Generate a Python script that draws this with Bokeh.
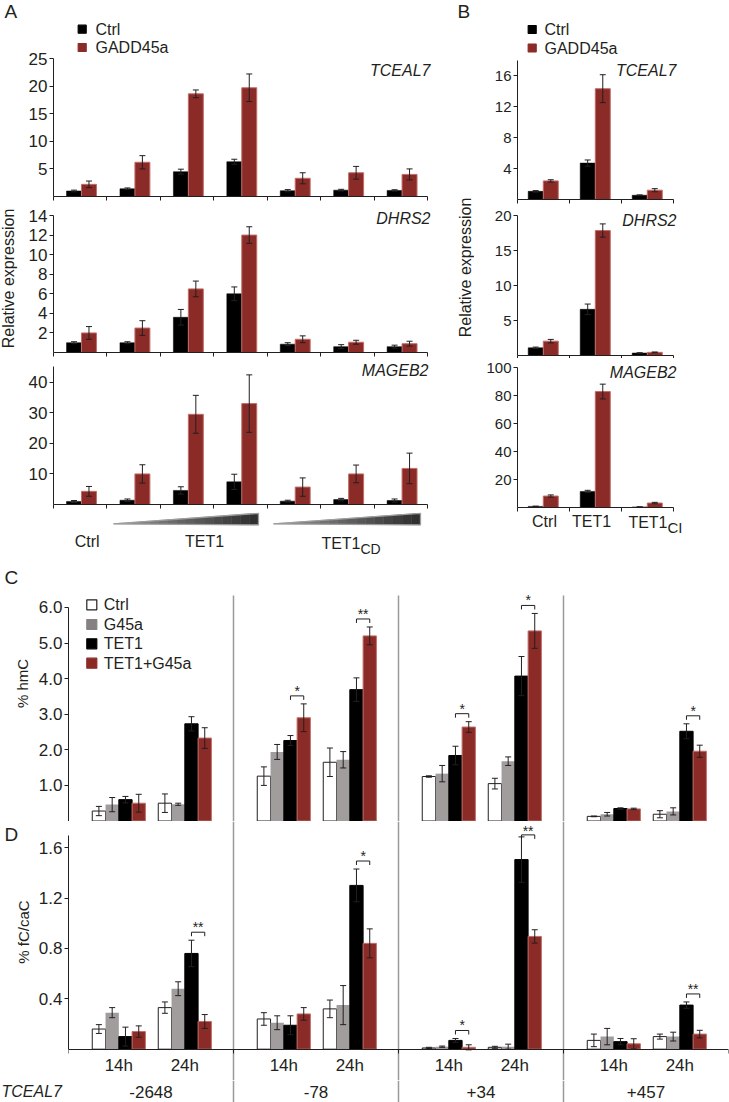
import math
from bokeh.plotting import figure
from bokeh.models import (Range1d, FixedTicker, Whisker, TeeHead, ColumnDataSource,
                          PrintfTickFormatter, CustomJSTickFormatter)
from bokeh.layouts import column, row
from bokeh.core.properties import value
from bokeh.embed import file_html
from bokeh.resources import INLINE

# ============================ DATA ============================
ab_series = ["Ctrl", "GADD45a"]
genes = ["TCEAL7", "DHRS2", "MAGEB2"]
y_title_ab = "Relative expression"

# Panel A: Ctrl, TET1 (3 increasing doses), TET1CD (3 increasing doses)
a_cond_main = ["Ctrl", "TET1", "TET1"]
a_cond_sub = ["", "", "CD"]
a_tceal7_ctrl = [1.0, 1.4, 4.5, 6.3, 1.05, 1.15, 1.1]
a_tceal7_ctrl_err = [0.15, 0.15, 0.45, 0.45, 0.2, 0.15, 0.12]
a_tceal7_gadd = [2.2, 6.2, 18.6, 19.7, 3.3, 4.3, 4.0]
a_tceal7_gadd_err = [0.6, 1.2, 0.7, 2.5, 1.0, 1.15, 1.0]
a_dhrs2_ctrl = [1.0, 1.0, 3.6, 6.0, 0.85, 0.6, 0.6]
a_dhrs2_ctrl_err = [0.1, 0.1, 0.8, 0.7, 0.15, 0.2, 0.15]
a_dhrs2_gadd = [2.0, 2.5, 6.5, 12.0, 1.35, 1.05, 0.9]
a_dhrs2_gadd_err = [0.65, 0.75, 0.8, 0.85, 0.35, 0.2, 0.25]
a_mageb2_ctrl = [1.0, 1.4, 4.6, 7.4, 1.1, 1.6, 1.3]
a_mageb2_ctrl_err = [0.3, 0.4, 1.2, 2.5, 0.3, 0.4, 0.5]
a_mageb2_gadd = [4.3, 10.0, 29.5, 33.0, 5.7, 10.0, 11.8]
a_mageb2_gadd_err = [1.6, 3.0, 6.2, 9.4, 3.0, 2.9, 5.0]

# Panel B: Ctrl, TET1, TET1CI
b_cond_main = ["Ctrl", "TET1", "TET1"]
b_cond_sub = ["", "", "CI"]
b_tceal7_ctrl = [1.05, 4.7, 0.55]
b_tceal7_ctrl_err = [0.1, 0.4, 0.05]
b_tceal7_gadd = [2.4, 14.3, 1.2]
b_tceal7_gadd_err = [0.15, 1.8, 0.2]
b_dhrs2_ctrl = [1.1, 6.6, 0.35]
b_dhrs2_ctrl_err = [0.1, 0.75, 0.05]
b_dhrs2_gadd = [2.05, 17.85, 0.45]
b_dhrs2_gadd_err = [0.25, 0.95, 0.05]
b_mageb2_ctrl = [0.8, 11.5, 0.4]
b_mageb2_ctrl_err = [0.2, 0.8, 0.1]
b_mageb2_gadd = [8.2, 83.0, 3.2]
b_mageb2_gadd_err = [0.8, 5.3, 0.5]

# Panels C/D: 4 sites x 2 times (order: site1 14h, site1 24h, site2 14h, ...)
cd_series = ["Ctrl", "G45a", "TET1", "TET1+G45a"]
cd_sites = ["-2648", "-78", "+34", "+457"]
cd_times = ["14h", "24h"]
cd_gene = "TCEAL7"
c_title = "% hmC"
d_title = "% fC/caC"

hmc_ctrl = [0.28, 0.5, 1.26, 1.65, 1.25, 1.05, 0.13, 0.19]
hmc_ctrl_err = [0.13, 0.26, 0.26, 0.4, 0.02, 0.15, 0.01, 0.1]
hmc_g45a = [0.46, 0.47, 1.94, 1.72, 1.33, 1.68, 0.19, 0.27]
hmc_g45a_err = [0.2, 0.03, 0.21, 0.23, 0.23, 0.12, 0.05, 0.1]
hmc_tet1 = [0.6, 2.73, 2.26, 3.69, 1.84, 4.07, 0.35, 2.52]
hmc_tet1_err = [0.09, 0.2, 0.14, 0.33, 0.26, 0.55, 0.02, 0.21]
hmc_tg = [0.5, 2.33, 2.9, 5.2, 2.64, 5.34, 0.34, 1.96]
hmc_tg_err = [0.25, 0.29, 0.39, 0.25, 0.15, 0.49, 0.02, 0.17]
hmc_stars = [(2, "*"), (3, "**"), (4, "*"), (5, "*"), (7, "*")]

fc_ctrl = [0.16, 0.33, 0.24, 0.32, 0.01, 0.015, 0.07, 0.10]
fc_ctrl_err = [0.035, 0.045, 0.05, 0.07, 0.005, 0.008, 0.05, 0.02]
fc_g45a = [0.29, 0.48, 0.21, 0.35, 0.02, 0.02, 0.10, 0.10]
fc_g45a_err = [0.04, 0.055, 0.055, 0.155, 0.005, 0.02, 0.065, 0.035]
fc_tet1 = [0.10, 0.76, 0.19, 1.30, 0.07, 1.505, 0.06, 0.35]
fc_tet1_err = [0.075, 0.105, 0.075, 0.13, 0.015, 0.18, 0.025, 0.025]
fc_tg = [0.14, 0.22, 0.28, 0.84, 0.015, 0.895, 0.043, 0.12]
fc_tg_err = [0.045, 0.055, 0.05, 0.115, 0.02, 0.053, 0.04, 0.03]
fc_stars = [(1, "**"), (3, "*"), (4, "*"), (5, "**"), (7, "**")]

panel_letters = ["A", "B", "C", "D"]

# ============================ STYLE ============================
FONT = "Liberation Sans"
INK = "#231f20"
RED = "#8b2b27"
RED_EDGE = "#c06e69"
GREY = "#a09d9c"
GREY_KEY = "#858181"
DIV = "#9a9a9a"


def base_fig(w, h, xr, yr, left, bottom, right=0, axes=True):
    p = figure(width=w, height=h, x_range=xr, y_range=yr,
               output_backend="svg", toolbar_location=None, title=None,
               x_axis_location="below" if axes else None,
               y_axis_location="left" if axes else None,
               min_border_left=left, min_border_right=right,
               min_border_top=0, min_border_bottom=bottom)
    p.outline_line_color = None
    p.background_fill_color = "white"
    p.border_fill_color = "white"
    p.grid.visible = False
    return p


def text_fig(w, h):
    # plain strip whose coordinates are pixels from its top-left corner
    return base_fig(w, h, Range1d(0, w), Range1d(h, 0), 0, 0, axes=False)


def style_y(p, ticks, bound, size, fmt=None):
    ax = p.yaxis[0]
    ax.ticker = FixedTicker(ticks=ticks)
    ax.bounds = (0, bound)
    if fmt is not None:
        ax.formatter = fmt
    ax.axis_line_color = INK
    ax.axis_line_width = 1
    ax.major_tick_line_color = INK
    ax.major_tick_out = 4
    ax.major_tick_in = 0
    ax.minor_tick_line_color = None
    ax.major_label_text_font = FONT
    ax.major_label_text_font_size = size
    ax.major_label_text_color = INK
    ax.major_label_standoff = 2


def style_x(p, ticks, bound, fixed=None, tick_out=4):
    ax = p.xaxis[0]
    ax.ticker = FixedTicker(ticks=ticks)
    ax.bounds = bound
    ax.formatter = CustomJSTickFormatter(code="return ''")
    ax.axis_line_color = INK
    ax.axis_line_width = 1
    ax.major_tick_line_color = INK
    ax.major_tick_out = tick_out
    ax.major_tick_in = 0
    ax.minor_tick_line_color = None
    ax.major_label_text_font_size = "0px"
    ax.major_label_standoff = 0
    if fixed is not None:
        ax.fixed_location = fixed


def add_err(p, xs, vals, errs, head=6):
    src = ColumnDataSource(dict(x=list(xs),
                                lo=[v - e for v, e in zip(vals, errs)],
                                hi=[v + e for v, e in zip(vals, errs)]))
    w = Whisker(base="x", lower="lo", upper="hi", source=src, dimension="height",
                line_color=INK, line_width=1, level="overlay",
                upper_head=TeeHead(size=head, line_color=INK, line_width=1),
                lower_head=TeeHead(size=head, line_color=INK, line_width=1))
    p.add_layout(w)


def add_text(p, xs, ys, texts, size, align="left", baseline="middle", style="normal", angle=0.0):
    p.text(x=list(xs), y=list(ys), text=list(texts), text_font=value(FONT),
           text_font_size=value(size), text_align=value(align), angle=angle,
           text_baseline=value(baseline), text_font_style=value(style), text_color=INK)


def expr_panel(width, left, x0, xppu, top, base, bot, yppu, ticks, bound, tsize,
               ctrl, ctrl_err, gadd, gadd_err, off_c, off_g, bw, gene, gx, gy, tick_out=4):
    n = len(ctrl)
    p = base_fig(width, bot - top, Range1d(0, (width - left) / xppu),
                 Range1d(0, (base - top) / yppu), left, bot - base)
    style_y(p, ticks, bound, tsize)
    style_x(p, list(range(n + 1)), (0, n), tick_out=tick_out)
    xc = [i + off_c for i in range(n)]
    xg = [i + off_g for i in range(n)]
    p.vbar(x=xc, top=ctrl, bottom=0, width=bw, fill_color="black", line_color="black", line_width=0.5)
    p.vbar(x=xg, top=gadd, bottom=0, width=bw, fill_color=RED, line_color=RED_EDGE, line_width=1)
    add_err(p, xc + xg, ctrl + gadd, ctrl_err + gadd_err)
    fx = lambda r: (r - x0) / xppu
    fy = lambda r: (base - r) / yppu
    add_text(p, [fx(gx)], [fy(gy)], [gene], "16px", align="right", style="italic")
    return p, fx, fy


def add_key(p, fx, fy, sq_x, txt_x, ys, names, fills, lines, size, font):
    p.scatter(x=[fx(sq_x)] * len(ys), y=[fy(v) for v in ys], marker="square", size=size,
              fill_color=fills, line_color=lines, line_width=1.2)
    add_text(p, [fx(txt_x)] * len(ys), [fy(v) for v in ys], names, font)


# All layout positions below are page pixels (page origin at top-left).
# ============================ PANEL A ============================
A_LAB_W = 24
A_W, A_LEFT, A_X0, A_XPPU = 416, 29, 53.0, 374.0 / 7
a_off_c, a_off_g, a_bw = 0.384, 0.664, 0.28

a1, a1x, a1y = expr_panel(A_W, A_LEFT, A_X0, A_XPPU, 0, 196, 205, 138 / 25, [5, 10, 15, 20, 25], 25, "17px",
                          a_tceal7_ctrl, a_tceal7_ctrl_err, a_tceal7_gadd, a_tceal7_gadd_err,
                          a_off_c, a_off_g, a_bw, genes[0], 430, 70)
a2, a2x, a2y = expr_panel(A_W, A_LEFT, A_X0, A_XPPU, 205, 352, 361, 137 / 14, [2, 4, 6, 8, 10, 12, 14], 14, "17px",
                          a_dhrs2_ctrl, a_dhrs2_ctrl_err, a_dhrs2_gadd, a_dhrs2_gadd_err,
                          a_off_c, a_off_g, a_bw, genes[1], 430, 217.5)
a3, a3x, a3y = expr_panel(A_W, A_LEFT, A_X0, A_XPPU, 361, 504, 512, 122.3 / 40, [10, 20, 30, 40], 45, "17px",
                          a_mageb2_ctrl, a_mageb2_ctrl_err, a_mageb2_gadd, a_mageb2_gadd_err,
                          a_off_c, a_off_g, a_bw, genes[2], 428, 370)
add_key(a1, a1x, a1y, 81.7, 95, [28.7, 47], ab_series, ["black", RED], ["black", RED], 8, "16px")

# strip below panel A: dose wedges and condition labels (y = px from top of strip, page row 512)
a4 = base_fig(A_W, 48, Range1d(0, (A_W - A_LEFT) / A_XPPU), Range1d(48, 0), A_LEFT, 0, axes=False)


def wedge(p, x0, x1, tip, ytop, ybot, n=16):
    xs, ys, cols = [], [], []
    for k in range(n):
        fa, fb = k / n, (k + 1) / n
        xa, xb = x0 + fa * (x1 - x0), x0 + fb * (x1 - x0)
        ta, tb = tip + fa * (ytop - tip), tip + fb * (ytop - tip)
        ba, bb = tip + fa * (ybot - tip), tip + fb * (ybot - tip)
        xs.append([xa, xb, xb, xa])
        ys.append([ta, tb, bb, ba])
        c = int(150 - 105 * (k + 0.5) / n)
        cols.append("#%02x%02x%02x" % (c, c, c))
    p.patches(xs, ys, fill_color=cols, line_color=cols, line_width=0.5)
    p.patch([x0, x1, x1, x0], [tip, ytop, ybot, tip], fill_color=None, line_color="#9d9d9d", line_width=1.3)


wedge(a4, a1x(113), a1x(258), 11.3, 0.8, 12.3)
wedge(a4, a1x(273), a1x(420), 11.3, 0.8, 12.3)

A_LAB_REF = [86.7, 204, 360]
for i, (m, s) in enumerate(zip(a_cond_main, a_cond_sub)):
    if s:
        add_text(a4, [a1x(A_LAB_REF[i])], [30.5], [m], "16px", align="right")
        add_text(a4, [a1x(A_LAB_REF[i])], [36], [s], "14px", align="left")
    else:
        add_text(a4, [a1x(A_LAB_REF[i])], [29], [m], "16px", align="center")

# left strip of panel A: letter and y title
a_lab = text_fig(A_LAB_W, 560)
add_text(a_lab, [4], [0], [panel_letters[0]], "19px", baseline="top")
add_text(a_lab, [8], [278], [y_title_ab], "16px", align="center", angle=math.pi / 2)

# ============================ PANEL B ============================
B_LAB_W = 34
B_W, B_LEFT, B_X0, B_XPPU = 255, 43, 517.0, 52.0
b_off_c, b_off_g, b_bw = 0.35, 0.64, 0.288

b1, b1x, b1y = expr_panel(B_W, B_LEFT, B_X0, B_XPPU, 0, 199, 206, 7.75, [4, 8, 12, 16], 18, "15px",
                          b_tceal7_ctrl, b_tceal7_ctrl_err, b_tceal7_gadd, b_tceal7_gadd_err,
                          b_off_c, b_off_g, b_bw, genes[0], 676, 70)
b2, b2x, b2y = expr_panel(B_W, B_LEFT, B_X0, B_XPPU, 206, 355, 358, 7.0, [5, 10, 15, 20], 20, "15px",
                          b_dhrs2_ctrl, b_dhrs2_ctrl_err, b_dhrs2_gadd, b_dhrs2_gadd_err,
                          b_off_c, b_off_g, b_bw, genes[1], 676, 219.5, tick_out=3)
b3, b3x, b3y = expr_panel(B_W, B_LEFT, B_X0, B_XPPU, 358, 507, 514, 139.7 / 100, [20, 40, 60, 80, 100], 100, "15px",
                          b_mageb2_ctrl, b_mageb2_ctrl_err, b_mageb2_gadd, b_mageb2_gadd_err,
                          b_off_c, b_off_g, b_bw, genes[2], 676, 371.5)
add_key(b1, b1x, b1y, 531.7, 544, [29, 47.5], ab_series, ["black", RED], ["black", RED], 8, "16px")

b4 = base_fig(B_W, 46, Range1d(0, (B_W - B_LEFT) / B_XPPU), Range1d(46, 0), B_LEFT, 0, axes=False)
B_LAB_REF = [544, 591, 667]
for i, (m, s) in enumerate(zip(b_cond_main, b_cond_sub)):
    if s:
        add_text(b4, [b1x(B_LAB_REF[i])], [7.5], [m], "16px", align="right")
        add_text(b4, [b1x(B_LAB_REF[i])], [13], [s], "15px", align="left")
    else:
        add_text(b4, [b1x(B_LAB_REF[i])], [6.5], [m], "16px", align="center")

# left strip of panel B (page x 440..474)
b_lab = text_fig(B_LAB_W, 560)
add_text(b_lab, [17], [0], [panel_letters[1]], "19px", baseline="top")
add_text(b_lab, [25], [267], [y_title_ab], "16px", align="center", angle=math.pi / 2)

# ============================ PANELS C / D ============================
CD_LAB_W = 33
CD_W, CD_LEFT, CD_X0, CD_XPPU = 696, 35, 68.0, 82.5
BW = 0.161
centers = [2 * (g // 2) + (0.61 if g % 2 == 0 else 1.41) for g in range(8)]
offs = [-1.5 * BW, -0.5 * BW, 0.5 * BW, 1.5 * BW]
cd_fill = ["white", GREY, "black", RED]
cd_line = [INK, None, "black", RED_EDGE]


def meth_panel(top, base, bot, yppu, ticks, bound, vals, errs, stars, limit):
    p = base_fig(CD_W, bot - top, Range1d(0, 8), Range1d((base - bot) / yppu, (base - top) / yppu),
                 CD_LEFT, 0, right=CD_W - CD_LEFT - 660)
    style_y(p, ticks, bound, "17px", PrintfTickFormatter(format="%.1f"))
    style_x(p, [0, 2, 4, 6, 8], (0, 8), fixed=0, tick_out=4)
    fx = lambda r: (r - CD_X0) / CD_XPPU
    fy = lambda r: (base - r) / yppu
    allx, allv, alle = [], [], []
    for k in range(4):
        xs = [c + offs[k] for c in centers]
        p.vbar(x=xs, top=vals[k], bottom=0, width=BW, fill_color=cd_fill[k],
               line_color=cd_line[k], line_width=1)
        allx += xs
        allv += vals[k]
        alle += errs[k]
    add_err(p, allx, allv, alle)
    # significance brackets
    x0s, y0s, x1s, y1s, tx, ty, tt = [], [], [], [], [], [], []
    for g, mark in stars:
        xa, xb = centers[g] + offs[2], centers[g] + offs[3]
        t = max(vals[2][g] + errs[2][g], vals[3][g] + errs[3][g])
        yb, lift = t + 8 / yppu, 5 / yppu
        if yb > limit:
            yb, lift = t + 2 / yppu, 4 / yppu
        tick = 4 / yppu
        x0s += [xa, xa, xb]
        x1s += [xb, xa, xb]
        y0s += [yb, yb, yb]
        y1s += [yb, yb - tick, yb - tick]
        tx.append((xa + xb) / 2)
        ty.append(yb + lift)
        tt.append(mark)
    p.segment(x0=x0s, y0=y0s, x1=x1s, y1=y1s, line_color=INK, line_width=1)
    add_text(p, tx, ty, tt, "14px", align="center")
    return p, fx, fy


# C: % hmC  (page rows 560..821)
c, cx, cy = meth_panel(560, 820.5, 821, 35.6, [1, 2, 3, 4, 5, 6], 6.0,
                       [hmc_ctrl, hmc_g45a, hmc_tet1, hmc_tg],
                       [hmc_ctrl_err, hmc_g45a_err, hmc_tet1_err, hmc_tg_err], hmc_stars, 6.3)
c.segment(x0=[2, 4, 6], y0=[cy(821)] * 3, x1=[2, 4, 6], y1=[cy(595)] * 3, line_color=DIV, line_width=1.5)
add_key(c, cx, cy, 91.3, 103.3, [604.3, 624, 643.3, 662.7], cd_series,
        ["white", GREY_KEY, "black", RED], [INK, GREY_KEY, "black", RED], 10, "16px")
c_lab = text_fig(CD_LAB_W, 261)
add_text(c_lab, [4], [6], [panel_letters[2]], "19px", baseline="top")
add_text(c_lab, [21.5], [123], [c_title], "15px", align="center", angle=math.pi / 2)

# D: % fC/caC  (page rows 821..1080)
d, dx, dy = meth_panel(821, 1048.7, 1080, 126.0, [0.4, 0.8, 1.2, 1.6], 1.7,
                       [fc_ctrl, fc_g45a, fc_tet1, fc_tg],
                       [fc_ctrl_err, fc_g45a_err, fc_tet1_err, fc_tg_err], fc_stars, 1.72)
d.segment(x0=[2, 4, 6], y0=[dy(1080)] * 3, x1=[2, 4, 6], y1=[dy(821)] * 3, line_color=DIV, line_width=1.5)
add_text(d, centers, [dy(1064.5)] * 8, [cd_times[g % 2] for g in range(8)], "17px", align="center")
d_lab = text_fig(CD_LAB_W, 259)
add_text(d_lab, [4], [2], [panel_letters[3]], "19px", baseline="top")
add_text(d_lab, [22.5], [110.5], [d_title], "15px", align="center", angle=math.pi / 2)

# bottom strip: site labels, gene name, divider continuation (page rows 1080..1102)
e = base_fig(729, 22, Range1d((0 - CD_X0) / CD_XPPU, (729 - CD_X0) / CD_XPPU), Range1d(22, 0), 0, 0, axes=False)
e.segment(x0=[2, 4, 6], y0=[0] * 3, x1=[2, 4, 6], y1=[22] * 3, line_color=DIV, line_width=1.5)
add_text(e, [2 * s + 1 for s in range(4)], [11] * 4, cd_sites, "17px", align="center")
add_text(e, [(1 - CD_X0) / CD_XPPU], [11], [cd_gene], "16px", style="italic")

# ============================ LAYOUT ============================
top_row = row(a_lab, column(a1, a2, a3, a4), b_lab, column(b1, b2, b3, b4))
page = column(top_row, row(c_lab, c), row(d_lab, d), e)

open("out.html", "w").write(file_html(page, INLINE))
